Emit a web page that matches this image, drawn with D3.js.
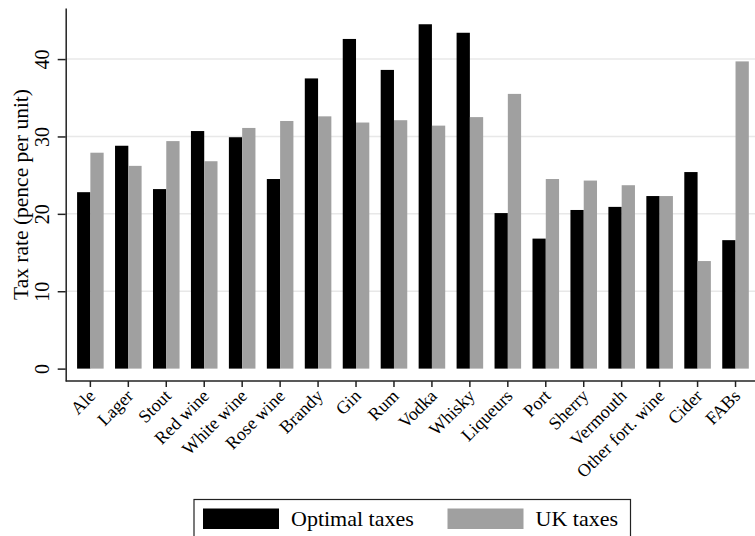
<!DOCTYPE html>
<html>
<head>
<meta charset="utf-8">
<script src="https://cdn.jsdelivr.net/npm/d3@7"></script>
<style>
  body { margin: 0; background: #fff; }
  svg { display: block; font-family: "Liberation Serif", "Times New Roman", serif; }
</style>
</head>
<body>
<svg id="chart" width="755" height="536"></svg>
<script>
// ---- data ----
const categories = ['Ale', 'Lager', 'Stout', 'Red wine', 'White wine', 'Rose wine', 'Brandy', 'Gin', 'Rum',
  'Vodka', 'Whisky', 'Liqueurs', 'Port', 'Sherry', 'Vermouth', 'Other fort. wine', 'Cider', 'FABs'];
const optimalTaxes = [22.8, 28.8, 23.2, 30.7, 29.9, 24.5, 37.5, 42.6, 38.6, 44.5, 43.4, 20.1, 16.8, 20.5, 20.9, 22.3, 25.4, 16.6];
const ukTaxes = [27.9, 26.2, 29.4, 26.8, 31.1, 32.0, 32.6, 31.8, 32.1, 31.4, 32.5, 35.5, 24.5, 24.3, 23.7, 22.3, 13.9, 39.7];
const yTicks = [0, 10, 20, 30, 40];
const seriesNames = ['Optimal taxes', 'UK taxes'];
const seriesColors = ['#000000', '#a0a0a0'];

const svg = d3.select('#chart');

// plot frame
const plotLeft = 65.7, plotRight = 760.2, plotTop = 8, plotBottom = 381;
const axisColor = '#222';

const x = d3.scaleBand()
  .domain(categories)
  .range([plotLeft, plotRight])
  .paddingInner(0.3)
  .paddingOuter(0.3);

const xSub = d3.scaleBand()
  .domain(seriesNames)
  .range([0, x.bandwidth()]);

const y = d3.scaleLinear()
  .domain([-1.6, 46.6])
  .range([plotBottom, plotTop]);

// gridlines
svg.append('g')
  .selectAll('line')
  .data(yTicks.filter(d => d > 0))
  .join('line')
  .attr('x1', plotLeft).attr('x2', 755)
  .attr('y1', d => y(d)).attr('y2', d => y(d))
  .attr('stroke', '#e8e8e8')
  .attr('stroke-width', 1.5);

// bars
const rows = categories.map((c, i) => ({ cat: c, values: [optimalTaxes[i], ukTaxes[i]] }));
const groups = svg.append('g')
  .selectAll('g')
  .data(rows)
  .join('g')
  .attr('transform', d => `translate(${x(d.cat)},0)`);

groups.selectAll('rect')
  .data(d => d.values.map((v, k) => ({ v, k })))
  .join('rect')
  .attr('x', d => xSub(seriesNames[d.k]))
  .attr('width', xSub.bandwidth())
  .attr('y', d => y(d.v))
  .attr('height', d => y(0) - y(d.v))
  .attr('fill', d => seriesColors[d.k]);

// y axis
const yAxis = svg.append('g')
  .attr('transform', `translate(${plotLeft},0)`)
  .call(d3.axisLeft(y).tickValues(yTicks).tickSize(8).tickPadding(0).tickSizeOuter(0));
yAxis.select('.domain').attr('stroke', axisColor).attr('stroke-width', 1.5);
yAxis.selectAll('.tick line').attr('stroke', axisColor).attr('stroke-width', 1.5);
yAxis.selectAll('.tick text')
  .attr('x', null).attr('dy', null)
  .attr('transform', 'translate(-16.5,0) rotate(-90)')
  .attr('text-anchor', 'middle')
  .attr('fill', '#000')
  .style('font-size', '20px')
  .style('font-family', '"Liberation Serif", serif');

// x axis
const xAxis = svg.append('g')
  .attr('transform', `translate(0,${plotBottom})`)
  .call(d3.axisBottom(x).tickSize(6).tickSizeOuter(0));
xAxis.select('.domain').attr('d', `M${plotLeft},0H755`).attr('stroke', axisColor).attr('stroke-width', 1.5);
xAxis.selectAll('.tick line').attr('stroke', axisColor).attr('stroke-width', 1.5);
xAxis.selectAll('.tick text')
  .attr('y', null).attr('dy', null)
  .attr('transform', 'translate(6,16) rotate(-45)')
  .attr('text-anchor', 'end')
  .attr('fill', '#000')
  .style('font-size', '18px')
  .style('font-family', '"Liberation Serif", serif');

// y axis title
svg.append('text')
  .attr('transform', `translate(28,${(plotTop + plotBottom) / 2}) rotate(-90)`)
  .attr('text-anchor', 'middle')
  .style('font-size', '21.5px')
  .text('Tax rate (pence per unit)');

// legend
const legend = svg.append('g').attr('transform', 'translate(194,499.5)');
legend.append('rect')
  .attr('x', 0).attr('y', 0).attr('width', 436.5).attr('height', 40)
  .attr('fill', '#fff').attr('stroke', axisColor).attr('stroke-width', 1.2);
const legendX = [9, 253.5];
seriesNames.forEach((name, k) => {
  legend.append('rect')
    .attr('x', legendX[k]).attr('y', 9)
    .attr('width', 76).attr('height', 20.5)
    .attr('fill', seriesColors[k]);
  legend.append('text')
    .attr('x', legendX[k] + 88).attr('y', 26.5)
    .style('font-size', '22px')
    .text(name);
});
</script>
</body>
</html>
